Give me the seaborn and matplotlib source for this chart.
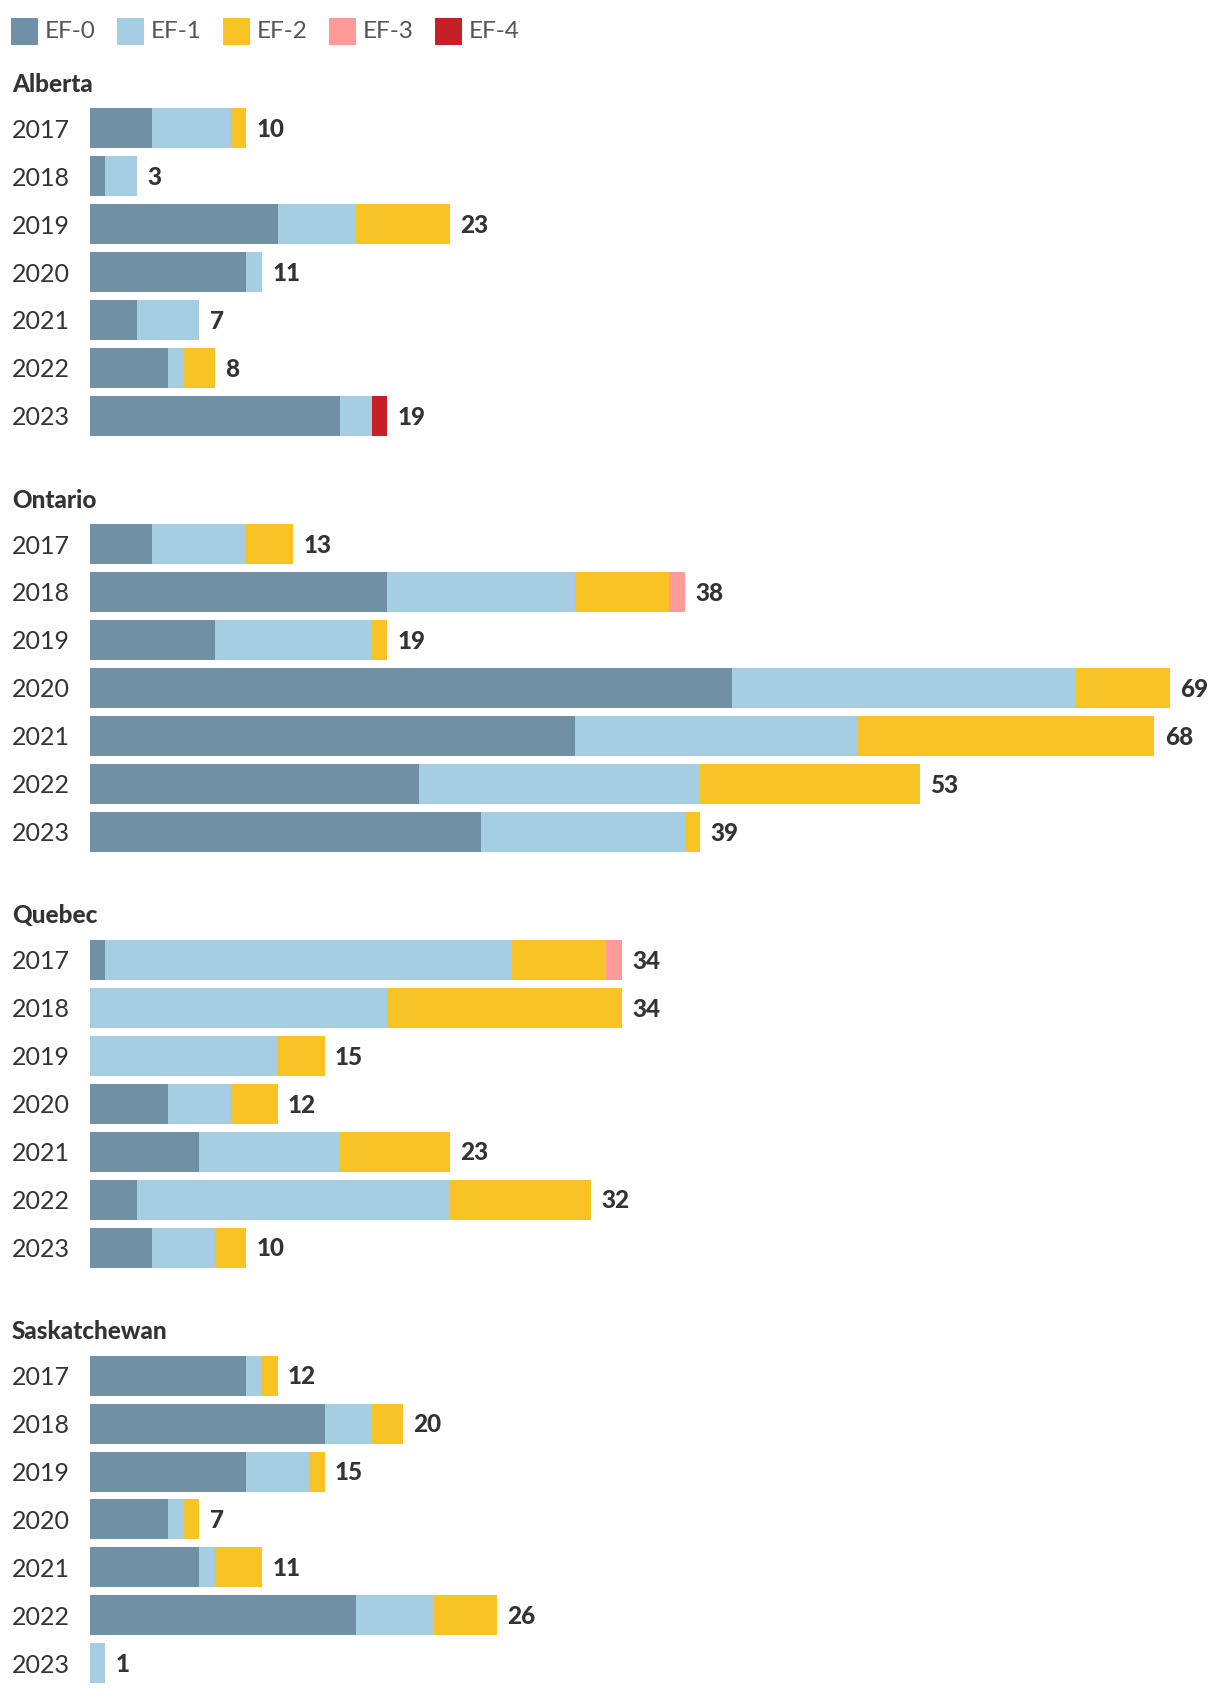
import matplotlib
matplotlib.use("Agg")
import matplotlib.pyplot as plt
from matplotlib.patches import Rectangle
import seaborn as sns
import pandas as pd
import numpy as np

# ---------------- data ----------------
years = ["2017", "2018", "2019", "2020", "2021", "2022", "2023"]
categories = ["EF-0", "EF-1", "EF-2", "EF-3", "EF-4"]
colors = ["#7090a5", "#a6cee2", "#f7c325", "#fd9b99", "#c62027"]
provinces = ["Alberta", "Ontario", "Quebec", "Saskatchewan"]

alberta_ef0 = [4, 1, 12, 10, 3, 5, 16]
alberta_ef1 = [5, 2, 5, 1, 4, 1, 2]
alberta_ef2 = [1, 0, 6, 0, 0, 2, 0]
alberta_ef3 = [0, 0, 0, 0, 0, 0, 0]
alberta_ef4 = [0, 0, 0, 0, 0, 0, 1]

ontario_ef0 = [4, 19, 8, 41, 31, 21, 25]
ontario_ef1 = [6, 12, 10, 22, 18, 18, 13]
ontario_ef2 = [3, 6, 1, 6, 19, 14, 1]
ontario_ef3 = [0, 1, 0, 0, 0, 0, 0]
ontario_ef4 = [0, 0, 0, 0, 0, 0, 0]

quebec_ef0 = [1, 0, 0, 5, 7, 3, 4]
quebec_ef1 = [26, 19, 12, 4, 9, 20, 4]
quebec_ef2 = [6, 15, 3, 3, 7, 9, 2]
quebec_ef3 = [1, 0, 0, 0, 0, 0, 0]
quebec_ef4 = [0, 0, 0, 0, 0, 0, 0]

sask_ef0 = [10, 15, 10, 5, 7, 17, 0]
sask_ef1 = [1, 3, 4, 1, 1, 5, 1]
sask_ef2 = [1, 2, 1, 1, 3, 4, 0]
sask_ef3 = [0, 0, 0, 0, 0, 0, 0]
sask_ef4 = [0, 0, 0, 0, 0, 0, 0]

province_data = {
    "Alberta": [alberta_ef0, alberta_ef1, alberta_ef2, alberta_ef3, alberta_ef4],
    "Ontario": [ontario_ef0, ontario_ef1, ontario_ef2, ontario_ef3, ontario_ef4],
    "Quebec": [quebec_ef0, quebec_ef1, quebec_ef2, quebec_ef3, quebec_ef4],
    "Saskatchewan": [sask_ef0, sask_ef1, sask_ef2, sask_ef3, sask_ef4],
}

# ---------------- style ----------------
sns.set_theme(style="white")
plt.rcParams["font.family"] = ["Lato", "DejaVu Sans"]

W, H = 1220, 1696
fig = plt.figure(figsize=(W / 100, H / 100), dpi=100)

X0 = 89.8           # bar start (px)
XW = 1080.2         # width for 69 units
XMAX = 69
FIRST_CENTER = 128.2
ROW = 47.95
SECTION = 415.8
BAR_H = 40 / ROW

text_dark = "#333333"

for p_i, prov in enumerate(provinces):
    c0 = FIRST_CENTER + p_i * SECTION
    top = c0 - 0.5 * ROW
    height = 7 * ROW
    ax = fig.add_axes([X0 / W, 1 - (top + height) / H, XW / W, height / H])

    segs = np.array(province_data[prov], dtype=float)
    cum = np.cumsum(segs, axis=0)
    # draw from outermost cumulative layer inward
    for k in range(len(categories) - 1, -1, -1):
        df = pd.DataFrame({"year": years, "value": cum[k]})
        sns.barplot(data=df, y="year", x="value", order=years, orient="h",
                    color=colors[k], saturation=1, width=BAR_H,
                    linewidth=0, ax=ax, errorbar=None)

    totals = cum[-1]
    for j, t in enumerate(totals):
        ax.annotate(f"{int(t)}", xy=(t, j), xytext=(7.5, -1),
                    textcoords="offset points", va="center", ha="left",
                    fontsize=17.5, fontweight=900, color=text_dark)

    ax.set_xlim(0, XMAX)
    ax.set_ylim(6.5, -0.5)
    ax.set_xlabel("")
    ax.set_ylabel("")
    ax.set_xticks([])
    for s in ax.spines.values():
        s.set_visible(False)
    ax.tick_params(axis="y", left=False, length=0, pad=(X0 - 12) * 0.72)
    for lbl in ax.get_yticklabels():
        lbl.set_ha("left")
        lbl.set_fontsize(18)
        lbl.set_color(text_dark)
    ax.patch.set_alpha(0)

    # province title
    fig.text(12 / W, 1 - (c0 - 44) / H, prov, ha="left", va="center",
             fontsize=17.5, fontweight=900, color=text_dark)

# ---------------- legend ----------------
leg_y = 31
for k, (cat, col) in enumerate(zip(categories, colors)):
    x = 10.8 + k * 106
    fig.patches.append(Rectangle((x / W, 1 - (leg_y + 13.5) / H), 27 / W, 27 / H,
                                 transform=fig.transFigure, facecolor=col,
                                 edgecolor="none"))
    fig.text((x + 33.5) / W, 1 - leg_y / H, cat, ha="left", va="center",
             fontsize=17.5, color="#555555")

fig.savefig("out.png", dpi=100)
